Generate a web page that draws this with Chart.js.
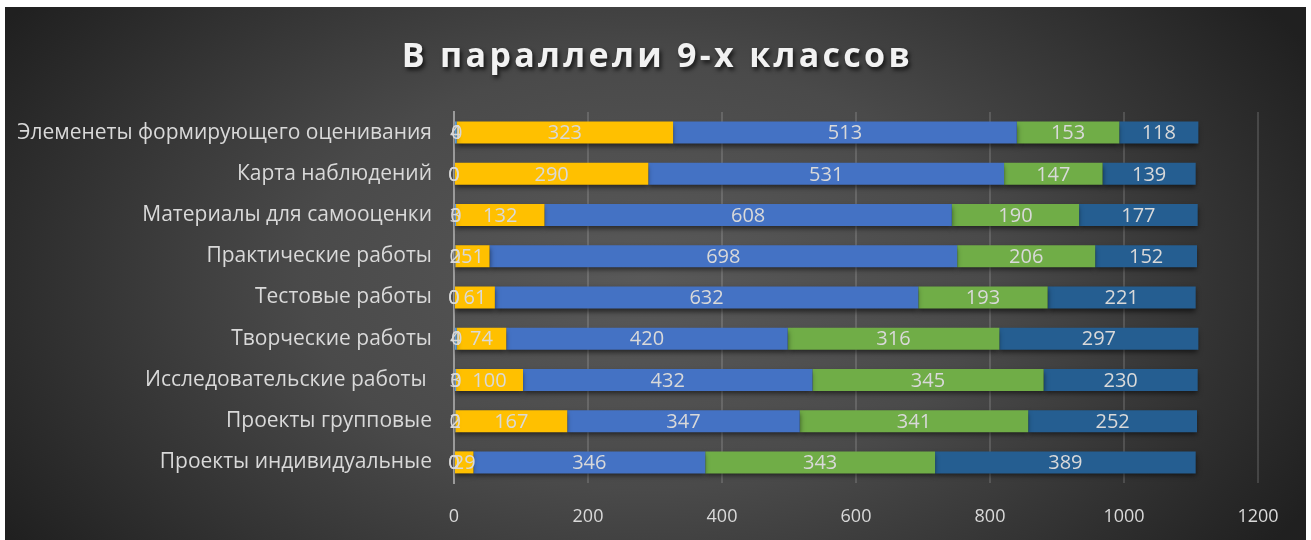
<!DOCTYPE html>
<html>
<head>
<meta charset="utf-8">
<script src="https://cdn.jsdelivr.net/npm/chart.js@4.4.1/dist/chart.umd.min.js"></script>
<style>
  html, body { margin: 0; padding: 0; background: #fff; }
  #wrap { position: absolute; left: 5px; top: 7px; width: 1301px; height: 533px; }
  #title {
    position: absolute; left: 0; top: 24px; width: 100%; text-align: center;
    font: bold 34px "Open Sans", sans-serif; letter-spacing: 3.3px; color: #f2f2f2;
    text-shadow: 2px 3px 4px rgba(0,0,0,0.7); margin: 0; padding-left: 4px; box-sizing: border-box;
  }
</style>
</head>
<body>
<div id="wrap">
  <canvas id="chart" width="1301" height="533"></canvas>
  <div id="title">В параллели 9-х классов</div>
</div>
<script>
const categories = [
  "Элеменеты формирующего оценивания",
  "Карта наблюдений",
  "Материалы для самооценки",
  "Практические работы",
  "Тестовые работы",
  "Творческие работы",
  "Исследовательские работы ",
  "Проекты групповые",
  "Проекты индивидуальные"
];
const seriesTiny = [4, 0, 3, 2, 0, 4, 3, 2, 0];
const seriesZero = [0, 0, 0, 0, 0, 0, 0, 0, 0];
const seriesYellow = [323, 290, 132, 51, 61, 74, 100, 167, 29];
const seriesBlue = [513, 531, 608, 698, 632, 420, 432, 347, 346];
const seriesGreen = [153, 147, 190, 206, 193, 316, 345, 341, 343];
const seriesDark = [118, 139, 177, 152, 221, 297, 230, 252, 389];
const xTicks = [0, 200, 400, 600, 800, 1000, 1200];

const textColor = "#d9d9d9";

// фон с радиальным градиентом
const bgPlugin = {
  id: "bg",
  beforeDraw(chart) {
    const ctx = chart.ctx;
    ctx.save();
    ctx.translate(640, 270);
    ctx.scale(1, 0.62);
    const g = ctx.createRadialGradient(0, 0, 0, 0, 0, 760);
    g.addColorStop(0, "#595959");
    g.addColorStop(0.45, "#4a4a4a");
    g.addColorStop(1, "#202020");
    ctx.fillStyle = g;
    ctx.fillRect(-700, -700 / 0.62, 1400, 1400 / 0.62);
    ctx.restore();
  }
};

// тень столбцов и подписи значений
const labelPlugin = {
  id: "labels",
  beforeDatasetsDraw(chart) {
    const ctx = chart.ctx;
    ctx.save();
    ctx.shadowColor = "rgba(0,0,0,0.55)";
    ctx.shadowBlur = 5;
    ctx.shadowOffsetY = 3;
  },
  afterDatasetsDraw(chart) {
    const ctx = chart.ctx;
    ctx.restore();
    ctx.save();
    ctx.font = '20px "Open Sans", sans-serif';
    ctx.fillStyle = textColor;
    ctx.textAlign = "center";
    ctx.textBaseline = "middle";
    chart.data.datasets.forEach((ds, i) => {
      const meta = chart.getDatasetMeta(i);
      meta.data.forEach((bar, j) => {
        const cx = (bar.x + bar.base) / 2;
        ctx.fillText(String(ds.data[j]), cx, bar.y + 1);
      });
    });
    ctx.restore();
  }
};

const common = { barPercentage: 0.534, categoryPercentage: 1, borderWidth: 0 };

new Chart(document.getElementById("chart"), {
  type: "bar",
  data: {
    labels: categories,
    datasets: [
      { label: "Ряд 1", data: seriesTiny, backgroundColor: "#5b9bd5", ...common },
      { label: "Ряд 2", data: seriesZero, backgroundColor: "#a5a5a5", ...common },
      { label: "Ряд 3", data: seriesYellow, backgroundColor: "#ffc000", ...common },
      { label: "Ряд 4", data: seriesBlue, backgroundColor: "#4472c4", ...common },
      { label: "Ряд 5", data: seriesGreen, backgroundColor: "#70ad47", ...common },
      { label: "Ряд 6", data: seriesDark, backgroundColor: "#255e91", ...common }
    ]
  },
  options: {
    indexAxis: "y",
    responsive: false,
    animation: false,
    layout: { padding: { top: 105, right: 48, bottom: 17, left: 0 } },
    plugins: {
      legend: { display: false },
      tooltip: { enabled: false }
    },
    scales: {
      x: {
        stacked: true,
        min: 0,
        max: 1200,
        afterBuildTicks(axis) { axis.ticks = xTicks.map(v => ({ value: v })); },
        grid: { color: "rgba(255,255,255,0.14)", lineWidth: 2, drawTicks: false },
        border: { display: false },
        ticks: {
          color: textColor, font: { family: "Open Sans", size: 18 }, padding: 23,
          callback: (v) => String(v)
        },
        afterFit(axis) { axis.height = 40; }
      },
      y: {
        stacked: true,
        grid: { display: false },
        border: { display: true, color: "#9a9a9a", width: 2 },
        ticks: { color: textColor, font: { family: "Open Sans", size: 21 }, padding: 14 },
        afterFit(axis) { axis.width = 449; }
      }
    }
  },
  plugins: [bgPlugin, labelPlugin]
});
</script>
</body>
</html>
